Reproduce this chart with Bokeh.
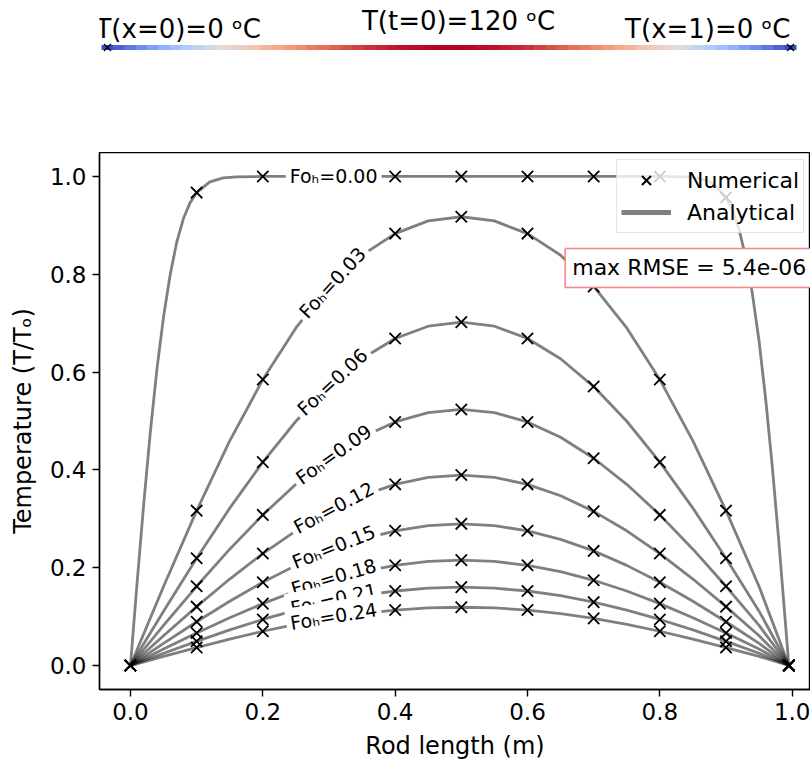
import numpy as np
from bokeh.plotting import figure
from bokeh.models import Range1d, FixedTicker, Label, Legend, LegendItem, ColumnDataSource
from bokeh.layouts import column
from bokeh.transform import linear_cmap
from bokeh.embed import file_html
from bokeh.resources import INLINE

# ---------------- data ----------------
x_curve = [0.0, 0.05, 0.1, 0.15, 0.2, 0.25, 0.3, 0.35, 0.4, 0.45, 0.5,
           0.55, 0.6, 0.65, 0.7, 0.75, 0.8, 0.85, 0.9, 0.95, 0.995]

x_fo00 = [0.0, 0.01, 0.02, 0.03, 0.04, 0.05, 0.06, 0.07, 0.08, 0.09, 0.1, 0.12, 0.14, 0.16, 0.2,
          0.3, 0.4, 0.5, 0.6, 0.7, 0.8, 0.84, 0.86, 0.88, 0.9, 0.91, 0.92, 0.93, 0.94, 0.95,
          0.96, 0.97, 0.98, 0.995]
t_fo00 = [0.0, 0.169, 0.330, 0.477, 0.606, 0.713, 0.799, 0.866, 0.914, 0.946, 0.967, 0.989, 0.997, 0.9993, 1.0,
          1.0, 1.0, 1.0, 1.0, 1.0, 1.0, 0.9991, 0.996, 0.986, 0.957, 0.930, 0.890, 0.834, 0.759, 0.663,
          0.544, 0.406, 0.251, 0.0]

t_fo03 = [0.0, 0.1617, 0.3167, 0.4592, 0.5847, 0.6904, 0.7751, 0.8390, 0.8832, 0.9091, 0.9176,
          0.9091, 0.8832, 0.8390, 0.7751, 0.6904, 0.5847, 0.4592, 0.3167, 0.1617, 0.0]
t_fo06 = [0.0, 0.1111, 0.2193, 0.3218, 0.4159, 0.4995, 0.5704, 0.6272, 0.6686, 0.6938, 0.7022,
          0.6938, 0.6686, 0.6272, 0.5704, 0.4995, 0.4159, 0.3218, 0.2193, 0.1111, 0.0]
t_fo09 = [0.0, 0.0820, 0.1620, 0.2379, 0.3080, 0.3705, 0.4238, 0.4667, 0.4981, 0.5172, 0.5236,
          0.5172, 0.4981, 0.4667, 0.4238, 0.3705, 0.3080, 0.2379, 0.1620, 0.0820, 0.0]
t_fo12 = [0.0, 0.0609, 0.1204, 0.1769, 0.2290, 0.2755, 0.3152, 0.3471, 0.3705, 0.3848, 0.3895,
          0.3848, 0.3705, 0.3471, 0.3152, 0.2755, 0.2290, 0.1769, 0.1204, 0.0609, 0.0]
t_fo15 = [0.0, 0.0453, 0.0895, 0.1315, 0.1703, 0.2048, 0.2344, 0.2581, 0.2755, 0.2861, 0.2897,
          0.2861, 0.2755, 0.2581, 0.2344, 0.2048, 0.1703, 0.1315, 0.0895, 0.0453, 0.0]
t_fo18 = [0.0, 0.0337, 0.0666, 0.0978, 0.1266, 0.1524, 0.1743, 0.1920, 0.2049, 0.2128, 0.2155,
          0.2128, 0.2049, 0.1920, 0.1743, 0.1524, 0.1266, 0.0978, 0.0666, 0.0337, 0.0]
t_fo21 = [0.0, 0.0251, 0.0495, 0.0728, 0.0942, 0.1133, 0.1296, 0.1428, 0.1524, 0.1583, 0.1603,
          0.1583, 0.1524, 0.1428, 0.1296, 0.1133, 0.0942, 0.0728, 0.0495, 0.0251, 0.0]
t_fo24 = [0.0, 0.0186, 0.0368, 0.0541, 0.0701, 0.0843, 0.0964, 0.1062, 0.1134, 0.1177, 0.1192,
          0.1177, 0.1134, 0.1062, 0.0964, 0.0843, 0.0701, 0.0541, 0.0368, 0.0186, 0.0]

# numerical solution (markers)
x_num = [0.0, 0.1, 0.2, 0.3, 0.4, 0.5, 0.6, 0.7, 0.8, 0.9, 0.995]
n_fo00 = [0.0, 0.967, 1.0, 1.0, 1.0, 1.0, 1.0, 1.0, 1.0, 0.957, 0.0]
n_fo03 = [0.0, 0.3167, 0.5847, 0.7751, 0.8832, 0.9176, 0.8832, 0.7751, 0.5847, 0.3167, 0.0]
n_fo06 = [0.0, 0.2193, 0.4159, 0.5704, 0.6686, 0.7022, 0.6686, 0.5704, 0.4159, 0.2193, 0.0]
n_fo09 = [0.0, 0.1620, 0.3080, 0.4238, 0.4981, 0.5236, 0.4981, 0.4238, 0.3080, 0.1620, 0.0]
n_fo12 = [0.0, 0.1204, 0.2290, 0.3152, 0.3705, 0.3895, 0.3705, 0.3152, 0.2290, 0.1204, 0.0]
n_fo15 = [0.0, 0.0895, 0.1703, 0.2344, 0.2755, 0.2897, 0.2755, 0.2344, 0.1703, 0.0895, 0.0]
n_fo18 = [0.0, 0.0666, 0.1266, 0.1743, 0.2049, 0.2155, 0.2049, 0.1743, 0.1266, 0.0666, 0.0]
n_fo21 = [0.0, 0.0495, 0.0942, 0.1296, 0.1524, 0.1603, 0.1524, 0.1296, 0.0942, 0.0495, 0.0]
n_fo24 = [0.0, 0.0368, 0.0701, 0.0964, 0.1134, 0.1192, 0.1134, 0.0964, 0.0701, 0.0368, 0.0]

fo_labels = ["Fo\u2095=0.00", "Fo\u2095=0.03", "Fo\u2095=0.06", "Fo\u2095=0.09", "Fo\u2095=0.12",
             "Fo\u2095=0.15", "Fo\u2095=0.18", "Fo\u2095=0.21", "Fo\u2095=0.24"]

xticks = [0.0, 0.2, 0.4, 0.6, 0.8, 1.0]
xtick_labels = ["0.0", "0.2", "0.4", "0.6", "0.8", "1.0"]
yticks = [0.0, 0.2, 0.4, 0.6, 0.8, 1.0]
ytick_labels = ["0.0", "0.2", "0.4", "0.6", "0.8", "1.0"]

rmse_text = "max RMSE = 5.4e-06"

# rod temperature (normalised) along rod
rod_T = [0.0, 0.052, 0.105, 0.156, 0.208, 0.259, 0.309, 0.358, 0.407, 0.454, 0.5, 0.545, 0.588,
         0.629, 0.669, 0.707, 0.743, 0.777, 0.809, 0.839, 0.866, 0.891, 0.914, 0.934, 0.951, 0.966,
         0.978, 0.988, 0.995, 0.999, 1.0, 0.999, 0.995, 0.988, 0.978, 0.966, 0.951, 0.934, 0.914,
         0.891, 0.866, 0.839, 0.809, 0.777, 0.743, 0.707, 0.669, 0.629, 0.588, 0.545, 0.5, 0.454,
         0.407, 0.358, 0.309, 0.259, 0.208, 0.156, 0.105, 0.052, 0.0]
rod_labels = ["T(x=0)=0 \u1d52C", "T(t=0)=120 \u1d52C", "T(x=1)=0 \u1d52C"]

# ---------------- styles ----------------
FONT = "DejaVu Sans"
cw = [(59, 76, 192), (98, 130, 234), (141, 176, 254), (184, 208, 249), (221, 221, 221),
      (245, 196, 173), (244, 154, 123), (222, 96, 77), (180, 4, 38)]
cw = np.array(cw, dtype=float)
pos = np.linspace(0, 1, len(cw))
t = np.linspace(0, 1, 256)
palette = ["#%02x%02x%02x" % tuple(int(round(np.interp(tt, pos, cw[:, k]))) for k in range(3)) for tt in t]

# ---------------- rod figure (frame aligned with the main frame: 99..810) ----------------
rod = figure(frame_width=711, frame_height=152, x_range=Range1d(-0.01171, 1.02928),
             y_range=Range1d(152, 0), output_backend="svg", toolbar_location=None,
             x_axis_type=None, y_axis_type=None, min_border_left=99, min_border_right=0,
             min_border_top=0, min_border_bottom=0)
rod.grid.visible = False
rod.outline_line_color = None
rod_x = np.linspace(0, 1, len(rod_T))
src = ColumnDataSource(dict(x=rod_x, T=rod_T))
rod.rect(x="x", y=47, width=1.05 / (len(rod_T) - 1), height=5, height_units="screen",
         source=src, fill_color=linear_cmap("T", palette, 0, 1), line_color=None)
rod.scatter([0, 1], [47, 47], marker="x", size=10, line_color="black", line_width=1.2)
rod.add_layout(Label(x=-0.0176, y=28, text=rod_labels[0], text_align="left", text_baseline="alphabetic",
                     text_font=FONT, text_font_size="26px", text_color="black"))
rod.add_layout(Label(x=0.514, y=20, text=rod_labels[1], text_align="center", text_baseline="alphabetic",
                     text_font=FONT, text_font_size="26px", text_color="black"))
rod.add_layout(Label(x=1.0, y=28, text=rod_labels[2], text_align="right", text_baseline="alphabetic",
                     text_font=FONT, text_font_size="26px", text_color="black"))

# ---------------- main figure ----------------
p = figure(frame_width=711, frame_height=537, x_range=Range1d(-0.0468, 1.0277),
           y_range=Range1d(-0.049, 1.049), output_backend="svg", toolbar_location=None,
           min_border_left=99, min_border_right=0, min_border_top=0, min_border_bottom=73)
p.grid.visible = False
p.outline_line_color = "black"
p.outline_line_width = 1.4

for ax in (p.xaxis[0], p.yaxis[0]):
    ax.axis_line_width = 1.4
    ax.major_tick_line_width = 1.4
    ax.major_tick_out = 7
    ax.major_tick_in = 0
    ax.minor_tick_out = 0
    ax.minor_tick_in = 0
    ax.major_label_text_font = FONT
    ax.major_label_text_font_size = "23px"
    ax.major_label_text_color = "black"
    ax.axis_label_text_font = FONT
    ax.axis_label_text_font_size = "24px"
    ax.axis_label_text_font_style = "normal"
    ax.axis_label_text_color = "black"
    ax.major_label_standoff = 6

p.xaxis.ticker = FixedTicker(ticks=xticks)
p.xaxis.major_label_overrides = dict(zip(xticks, xtick_labels))
p.yaxis.ticker = FixedTicker(ticks=yticks)
p.yaxis.major_label_overrides = dict(zip(yticks, ytick_labels))
p.xaxis.axis_label = "Rod length (m)"
p.yaxis.axis_label = "Temperature (T/T\u2092)"
p.xaxis.axis_label_standoff = 9
p.yaxis.axis_label_standoff = 10

LINE = dict(line_color="black", line_alpha=0.5, line_width=2.8)
p.line(x_fo00, t_fo00, **LINE)
for vals in (t_fo03, t_fo06, t_fo09, t_fo12, t_fo15, t_fo18, t_fo21, t_fo24):
    p.line(x_curve, vals, **LINE)
for vals in (n_fo00, n_fo03, n_fo06, n_fo09, n_fo12, n_fo15, n_fo18, n_fo21, n_fo24):
    p.scatter(x_num, vals, marker="x", size=16, line_color="black", line_width=1.8)

# inline labels
lab_pos = [(0.307, 1.0, 0.0), (0.305, 0.783, 47.6), (0.305, 0.580, 43.0), (0.307, 0.432, 35.6),
           (0.307, 0.323, 28.0), (0.307, 0.243, 21.6), (0.307, 0.181, 16.4), (0.307, 0.136, 12.3),
           (0.307, 0.101, 9.2)]
for txt, (lx, ly, ang) in zip(fo_labels, lab_pos):
    p.add_layout(Label(x=lx, y=ly, text=txt, angle=ang, angle_units="deg", text_align="center",
                       text_baseline="middle", text_font=FONT, text_font_size="19px",
                       text_color="black", background_fill_color="white", padding=4))

p.add_layout(Label(x=0.657, y=0.813, text=rmse_text, text_align="left", text_baseline="middle",
                   text_font=FONT, text_font_size="22px", text_color="black",
                   background_fill_color="white", border_line_color="#ff8080",
                   border_line_width=1.5, padding=7))

# legend proxies (placed outside the visible ranges)
leg_num = p.scatter([-1.0], [-1.0], marker="x", size=24, line_color="black", line_width=2)
leg_ana = p.line([-1.0, -0.9], [-1.0, -1.0], line_color="black", line_alpha=0.5, line_width=5)
legend = Legend(items=[LegendItem(label="Numerical", renderers=[leg_num]),
                       LegendItem(label="Analytical", renderers=[leg_ana])],
                location=(517, 456), label_text_font=FONT, label_text_font_size="22px",
                label_text_color="black",
                glyph_width=50, glyph_height=32, label_standoff=16, padding=4, spacing=0,
                margin=0, border_line_color="#cccccc", border_line_width=1.3,
                background_fill_alpha=0.8)
p.add_layout(legend)

layout = column(rod, p, spacing=0)
open("out.html", "w").write(file_html(layout, INLINE))
